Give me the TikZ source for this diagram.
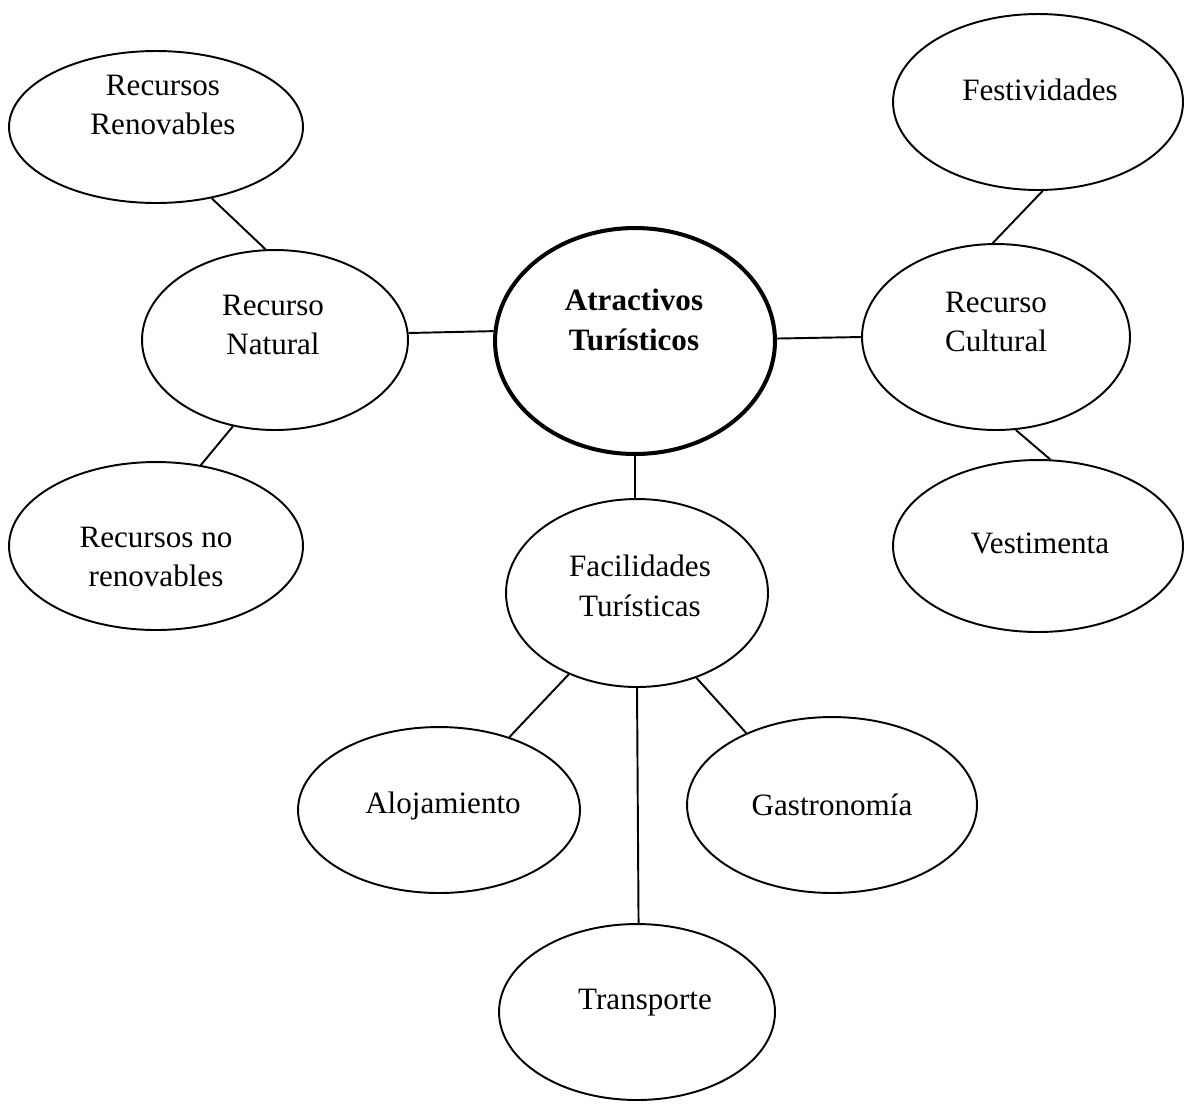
\documentclass[tikz,border=0pt]{standalone}
\usepackage{fontspec}
\setmainfont{Liberation Serif}
\usetikzlibrary{shapes.geometric}
\begin{document}
\begin{tikzpicture}[x=0.02cm,y=-0.02cm,
  ell/.style={draw, ellipse, line width=1.1pt, inner sep=0pt},
  thickell/.style={ell, line width=2.3pt},
  txt/.style={align=center, font=\fontsize{17.7}{22.7}\selectfont, inner sep=0pt},
  con/.style={line width=1.1pt}]
\useasboundingbox (0,0) rectangle (1185,1103);
% ellipses
\node[ell, minimum width=5.88cm, minimum height=3.04cm] (ren) at (156,127) {};
\node[ell, minimum width=5.32cm, minimum height=3.6cm] (nat) at (275,340) {};
\node[ell, minimum width=5.88cm, minimum height=3.36cm] (nor) at (156,546) {};
\node[thickell, minimum width=5.6cm, minimum height=4.52cm] (atr) at (635,341) {};
\node[ell, minimum width=5.8cm, minimum height=3.52cm] (fes) at (1038,102) {};
\node[ell, minimum width=5.36cm, minimum height=3.72cm] (cul) at (996,337) {};
\node[ell, minimum width=5.8cm, minimum height=3.44cm] (ves) at (1038,546) {};
\node[ell, minimum width=5.24cm, minimum height=3.76cm] (fac) at (637,593) {};
\node[ell, minimum width=5.64cm, minimum height=3.32cm] (alo) at (439,810) {};
\node[ell, minimum width=5.8cm, minimum height=3.52cm] (gas) at (832,805) {};
\node[ell, minimum width=5.52cm, minimum height=3.52cm] (tra) at (637,1012) {};
% texts
\node[txt] (renT) at (163,105) {Recursos\\Renovables};
\node[txt] (natT) at (273,325) {Recurso\\Natural};
\node[txt] (norT) at (156,557) {Recursos no\\renovables};
\node[txt, font=\fontsize{17.7}{22.7}\selectfont\bfseries] (atrT) at (634,320) {Atractivos\\Turísticos};
\node[txt] (fesT) at (1040,90) {Festividades};
\node[txt] (culT) at (996,322) {Recurso\\Cultural};
\node[txt] (vesT) at (1040,543) {Vestimenta};
\node[txt] (facT) at (640,586) {Facilidades\\Turísticas};
\node[txt] (aloT) at (443,806) {Alojamiento};
\node[txt] (gasT) at (832,805) {Gastronomía};
\node[txt] (traT) at (645,1003) {Transporte};
% connectors
\draw[con] (ren.-52) -- (nat.96);
\draw[con] (nat.-116) -- (nor.61);
\draw[con] (nat.3) -- (atr.176.7);
\draw[con] (atr.1.6) -- (cul.180);
\draw[con] (fes.-87) -- (cul.92);
\draw[con] (cul.-78) -- (ves.82);
\draw[con] (atr.south) -- (fac.north -| atr.south);
\draw[con] (fac.-130) -- (alo.46);
\draw[con] (fac.-90) -- (tra.89);
\draw[con] (fac.-55) -- (gas.140);
\end{tikzpicture}
\end{document}
